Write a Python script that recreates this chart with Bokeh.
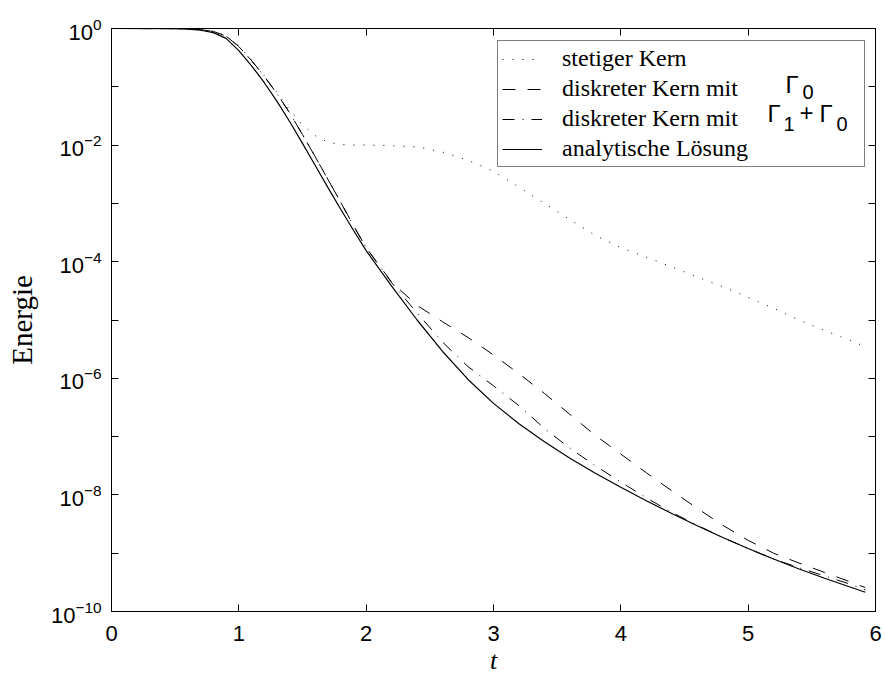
import numpy as np
from bokeh.plotting import figure
from bokeh.models import (FixedTicker, LogAxis, LinearAxis, Legend, LegendItem,
                          CustomJSTickFormatter, ColumnDataSource)
from bokeh.core.properties import value
from bokeh.embed import file_html
from bokeh.resources import INLINE

# ---- data (t, log10 of energy) ----
t_solid = [0.0, 0.5, 0.6, 0.7, 0.8, 0.9, 1.0, 1.1, 1.2, 1.3, 1.4, 1.5, 1.6, 1.7, 1.8, 1.9,
           2.0, 2.2, 2.4, 2.6, 2.8, 3.0, 3.2, 3.4, 3.6, 3.8, 4.0, 4.2, 4.4, 4.6, 4.8,
           5.0, 5.2, 5.4, 5.6, 5.8, 5.92]
log_solid = [0.0, -0.003, -0.01, -0.03, -0.07, -0.17, -0.38, -0.64, -0.93, -1.25, -1.60, -1.97,
             -2.35, -2.73, -3.10, -3.46, -3.81, -4.42, -5.00, -5.54, -6.02, -6.43, -6.78,
             -7.09, -7.37, -7.63, -7.87, -8.10, -8.32, -8.53, -8.73, -8.92, -9.10, -9.27,
             -9.43, -9.58, -9.67]

t_gamma0 = [0.0, 0.5, 0.6, 0.7, 0.8, 0.9, 1.0, 1.1, 1.2, 1.3, 1.4, 1.5, 1.6, 1.7, 1.8, 1.9,
            2.0, 2.2, 2.4, 2.6, 2.8, 3.0, 3.2, 3.4, 3.6, 3.8, 4.0, 4.2, 4.4, 4.6, 4.8,
            5.0, 5.2, 5.4, 5.6, 5.8, 5.92]
log_gamma0 = [0.0, -0.002, -0.008, -0.02, -0.05, -0.13, -0.31, -0.55, -0.82, -1.12, -1.45,
              -1.82, -2.20, -2.59, -2.98, -3.38, -3.76, -4.35, -4.75, -5.03, -5.30, -5.60,
              -5.92, -6.26, -6.62, -6.98, -7.30, -7.62, -7.93, -8.23, -8.52, -8.78, -9.00,
              -9.17, -9.33, -9.49, -9.59]

t_gamma10 = [0.0, 0.5, 0.6, 0.7, 0.8, 0.9, 1.0, 1.1, 1.2, 1.3, 1.4, 1.5, 1.6, 1.7, 1.8, 1.9,
             2.0, 2.2, 2.4, 2.6, 2.8, 3.0, 3.2, 3.4, 3.6, 3.8, 4.0, 4.2, 4.4, 4.6, 4.8,
             5.0, 5.2, 5.4, 5.6, 5.8, 5.92]
log_gamma10 = [0.0, -0.002, -0.008, -0.02, -0.05, -0.13, -0.31, -0.55, -0.82, -1.12, -1.45,
               -1.82, -2.20, -2.59, -2.98, -3.38, -3.76, -4.36, -4.88, -5.38, -5.80, -6.13,
               -6.47, -6.86, -7.20, -7.50, -7.78, -8.05, -8.30, -8.52, -8.73, -8.92, -9.10,
               -9.25, -9.39, -9.53, -9.63]

t_cont = [0.0, 0.5, 0.6, 0.7, 0.8, 0.9, 1.0, 1.1, 1.2, 1.3, 1.4, 1.5, 1.6, 1.7, 1.8, 1.9,
          2.0, 2.2, 2.4, 2.6, 2.8, 3.0, 3.2, 3.4, 3.6, 3.8, 4.0, 4.2, 4.4, 4.6, 4.8,
          5.0, 5.2, 5.4, 5.6, 5.8, 5.9]
log_cont = [0.0, -0.002, -0.008, -0.02, -0.05, -0.12, -0.30, -0.54, -0.81, -1.10, -1.40,
            -1.65, -1.84, -1.95, -1.99, -2.00, -2.00, -2.01, -2.03, -2.12, -2.26, -2.45,
            -2.72, -3.00, -3.28, -3.55, -3.76, -3.92, -4.09, -4.26, -4.43, -4.61, -4.80,
            -5.00, -5.18, -5.35, -5.44]

x_ticks = [0, 1, 2, 3, 4, 5, 6]
y_major = [1e0, 1e-2, 1e-4, 1e-6, 1e-8, 1e-10]
y_minor = [1e-1, 1e-3, 1e-5, 1e-7, 1e-9]
legend_labels = ["stetiger Kern", "diskreter Kern mit", "diskreter Kern mit", "analytische Lösung"]
gamma_big = ["Γ", "Γ", "+", "Γ"]
gamma_sub = ["0", "1", "0"]

SANS = "Liberation Sans"
SERIF = "Liberation Serif"

# frame geometry (pixels) used for placing the legend's Γ annotations
FL, FR, FT, FB = 111, 875, 28, 611

p = figure(width=885, height=677, x_range=(0, 6), y_range=(1e-10, 1),
           y_axis_type="log", output_backend="svg", toolbar_location=None,
           min_border_left=FL, min_border_right=885 - FR, min_border_top=FT,
           min_border_bottom=677 - FB)
p.background_fill_color = "white"
p.border_fill_color = "white"
p.outline_line_color = "black"
p.outline_line_width = 1
p.xgrid.visible = False
p.ygrid.visible = False

def style_common(ax):
    ax.axis_line_color = "black"
    ax.axis_line_width = 1
    ax.major_tick_line_color = "black"
    ax.minor_tick_line_color = "black"
    ax.major_tick_in = 7
    ax.major_tick_out = 0
    ax.minor_tick_in = 7
    ax.minor_tick_out = 0

# bottom axis
xa = p.xaxis[0]
xa.ticker = FixedTicker(ticks=x_ticks)
style_common(xa)
xa.major_label_text_font = SANS
xa.major_label_text_font_size = "22px"
xa.major_label_text_color = "black"
xa.major_label_standoff = 14
xa.axis_label = "t"
xa.axis_label_text_font = SERIF
xa.axis_label_text_font_style = "italic"
xa.axis_label_text_font_size = "26px"
xa.axis_label_standoff = 2
xa.axis_label_text_color = "black"

# left axis
ya = p.yaxis[0]
ya.ticker = FixedTicker(ticks=y_major, minor_ticks=y_minor)
style_common(ya)
ya.major_label_text_font = SANS
ya.major_label_text_font_size = "22px"
ya.major_label_text_color = "black"
ya.major_label_standoff = 10
ya.axis_label = "Energie"
ya.axis_label_text_font = SERIF
ya.axis_label_text_font_style = "normal"
ya.axis_label_text_font_size = "29px"
ya.axis_label_standoff = 10
ya.axis_label_text_color = "black"

# top and right axes (ticks only)
top = LinearAxis(ticker=FixedTicker(ticks=x_ticks),
                 formatter=CustomJSTickFormatter(code="return ''"))
style_common(top)
top.major_label_standoff = 0
p.add_layout(top, "above")

right = LogAxis(ticker=FixedTicker(ticks=y_major, minor_ticks=y_minor),
                formatter=CustomJSTickFormatter(code="return ''"))
style_common(right)
right.major_label_standoff = 0
p.add_layout(right, "right")

r_cont = p.line(t_cont, 10 ** np.array(log_cont), line_color="black", line_width=1,
                line_dash="1 9")
r_g0 = p.line(t_gamma0, 10 ** np.array(log_gamma0), line_color="black", line_width=1,
              line_dash="13 12")
r_g10 = p.line(t_gamma10, 10 ** np.array(log_gamma10), line_color="black", line_width=1,
               line_dash="12 8 1 8")
r_sol = p.line(t_solid, 10 ** np.array(log_solid), line_color="black", line_width=1.2)

legend = Legend(items=[LegendItem(label=legend_labels[0], renderers=[r_cont]),
                       LegendItem(label=legend_labels[1], renderers=[r_g0]),
                       LegendItem(label=legend_labels[2], renderers=[r_g10]),
                       LegendItem(label=legend_labels[3], renderers=[r_sol])],
                location=(386, 444))
legend.border_line_color = "black"
legend.border_line_width = 1
legend.background_fill_color = None
legend.background_fill_alpha = 0
legend.padding = 4
legend.spacing = 3
legend.margin = 0
legend.label_height = 22
legend.glyph_height = 22
legend.glyph_width = 40
legend.label_standoff = 20
legend.label_width = 298
legend.label_text_font = SERIF
legend.label_text_font_size = "24px"
legend.label_text_color = "black"
p.add_layout(legend, "center")

# Γ annotations next to the legend entries (pixel anchors mapped into data space)
def to_data(px, py):
    return ((px - FL) / (FR - FL) * 6.0, 10 ** (-(py - FT) / (FB - FT) * 10.0))

big_px = [(785, 84), (767, 113), (799, 112), (819, 113)]
sub_px = [(802, 91), (783, 123), (836, 123)]
big_xy = [to_data(*q) for q in big_px]
sub_xy = [to_data(*q) for q in sub_px]
src_big = ColumnDataSource(dict(x=[a for a, b in big_xy], y=[b for a, b in big_xy],
                                text=gamma_big))
src_sub = ColumnDataSource(dict(x=[a for a, b in sub_xy], y=[b for a, b in sub_xy],
                                text=gamma_sub))
p.text(x="x", y="y", text="text", source=src_big, text_font=value(SANS),
       text_font_size=value("24px"), text_color="black", text_align="left",
       text_baseline="alphabetic")
p.text(x="x", y="y", text="text", source=src_sub, text_font=value(SANS),
       text_font_size=value("20px"), text_color="black", text_align="left",
       text_baseline="alphabetic")

open("out.html", "w").write(file_html(p, INLINE))
